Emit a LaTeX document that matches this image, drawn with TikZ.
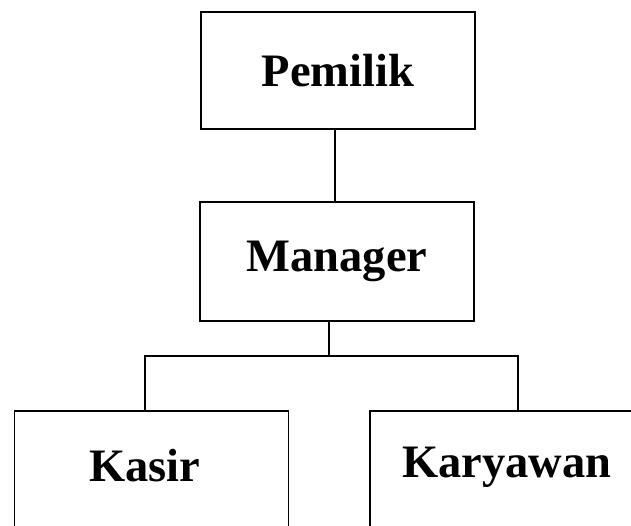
\documentclass[tikz,border=0pt]{standalone}
\usepackage{fontspec}
\setmainfont{Liberation Serif}
\usetikzlibrary{positioning}

\begin{document}
\begin{tikzpicture}[x=1pt, y=-1pt, line width=1.5pt,
    box/.style={draw, rectangle, minimum width=274pt, inner sep=0pt,
      font=\bfseries\fontsize{46.5}{56}\selectfont}]
    \useasboundingbox (0,0) rectangle (631,525);
    \clip (0,0) rectangle (631,525);
    \node[box, minimum height=117pt] (pemilik) at (338,70.5) {Pemilik};
    \node[box, minimum height=119pt] (manager) at (337,261.5) {Manager};
    \node[box, minimum height=140pt, anchor=north, text height=31pt, text depth=29pt] (kasir) at (151.5,410) {Kasir\kern13pt};
    \node[box, minimum height=140pt, anchor=north, text height=31pt, text depth=38pt] (karyawan) at (507,410) {Karyawan};
    % garis penghubung
    \coordinate (cabang) at (329,356);
    \coordinate (kasirtop) at (145,410);
    \coordinate (karyawantop) at (518,410);
    \draw (pemilik.south -| 335,0) -- (manager.north -| 335,0);
    \draw (manager.south -| cabang) -- (cabang);
    \draw (kasirtop) |- (cabang) -| (karyawantop);
\end{tikzpicture}
\end{document}
